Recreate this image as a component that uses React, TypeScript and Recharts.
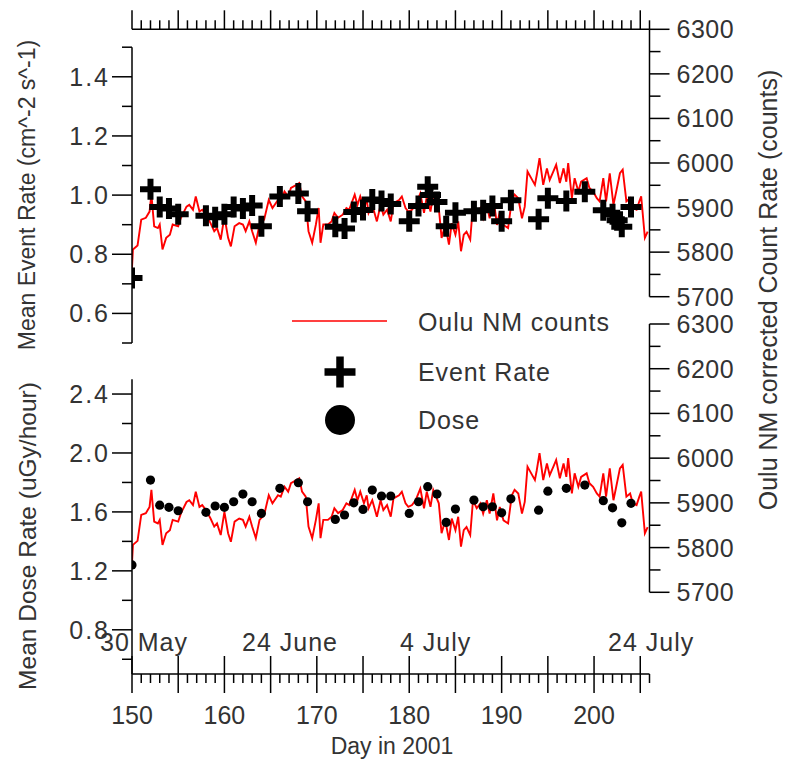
import React from 'react';
import { LineChart, Line, ScatterChart, Scatter, XAxis, YAxis } from 'recharts';

// ---- data -------------------------------------------------------------
// Oulu neutron monitor corrected count rate (day of year 2001, counts)
const ouluDays = [
  150.0, 150.1, 150.6, 151.0, 151.5, 151.9, 152.1, 152.4, 152.8, 153.0,
  153.3, 153.7, 154.1, 154.4, 155.0, 155.3, 155.9, 156.2, 156.6, 156.9,
  157.3, 157.6, 158.0, 158.5, 158.9, 159.2, 159.6, 160.0, 160.4, 160.7,
  161.1, 161.6, 162.0, 162.3, 162.7, 163.0, 163.4, 163.8, 164.3, 164.8,
  165.2, 165.8, 166.1, 166.5, 166.9, 167.2, 167.8, 168.1, 168.4, 168.8,
  169.1, 169.5, 169.9, 170.2, 170.4, 170.7, 171.2, 171.6, 171.9, 172.3,
  172.8, 173.2, 173.5, 174.1, 174.4, 174.7, 175.1, 175.4, 175.6, 176.0,
  176.5, 176.9, 177.2, 177.6, 178.0, 178.3, 178.9, 179.2, 179.6, 179.9,
  180.3, 180.7, 181.2, 181.6, 181.9, 182.3, 182.6, 183.2, 183.5, 183.9,
  184.3, 184.6, 185.0, 185.3, 185.6, 185.9, 186.2, 186.6, 186.9, 187.3,
  187.7, 188.0, 188.4, 188.7, 189.1, 189.5, 189.8, 190.2, 190.7, 191.1,
  191.4, 191.8, 192.2, 192.5, 192.8, 193.2, 193.6, 193.8, 194.1, 194.5,
  194.9, 195.2, 195.6, 195.9, 196.3, 196.7, 197.0, 197.2, 197.6, 197.9,
  198.3, 198.6, 199.2, 199.5, 199.9, 200.3, 200.6, 201.0, 201.3, 201.7,
  202.1, 202.4, 202.8, 203.1, 203.5, 203.9, 204.2, 204.6, 204.9, 205.1,
  205.5, 205.8,
];
const ouluCounts = [
  5765, 5806, 5815, 5873, 5877, 5891, 5929, 5858, 5854, 5862,
  5806, 5832, 5839, 5862, 5858, 5877, 5902, 5906, 5895, 5925,
  5891, 5895, 5884, 5865, 5847, 5854, 5828, 5880, 5832, 5813,
  5858, 5865, 5862, 5847, 5869, 5847, 5821, 5862, 5873, 5917,
  5899, 5917, 5914, 5936, 5925, 5944, 5951, 5955, 5925, 5914,
  5847, 5821, 5862, 5899, 5821, 5862, 5862, 5869, 5888, 5877,
  5884, 5899, 5895, 5929, 5906, 5925, 5899, 5917, 5888, 5906,
  5869, 5906, 5884, 5895, 5869, 5910, 5917, 5925, 5899, 5891,
  5895, 5906, 5932, 5888, 5925, 5891, 5929, 5899, 5832, 5861,
  5817, 5865, 5839, 5869, 5802, 5839, 5846, 5828, 5906, 5888,
  5899, 5876, 5906, 5876, 5921, 5861, 5891, 5861, 5854, 5917,
  5929, 5921, 5876, 5902, 5981, 5966, 5951, 5973, 6011, 5951,
  5988, 5962, 5981, 5996, 5955, 5988, 5958, 6000, 5921, 5966,
  5936, 5958, 5966, 5944, 5936, 5921, 5914, 5966, 5914, 5977,
  5906, 5936, 5977, 5985, 5914, 5921, 5899, 5895, 5914, 5925,
  5832, 5846,
];

// Mean event rate (cm^-2 s^-1)
const eventDays = [
  150, 152, 153, 154, 155, 158, 159, 160, 161, 162, 163, 164, 166, 168, 169,
  172, 173, 174, 175, 176, 177, 178, 180, 181, 182, 182.3, 183, 184, 185, 187,
  188, 189, 190, 191, 194, 195, 197, 199, 201, 202, 202.5, 203, 204,
];
const eventRates = [
  0.72, 1.02, 0.96, 0.955, 0.935, 0.93, 0.925, 0.935, 0.96, 0.955, 0.965, 0.895, 0.995, 1.005, 0.945,
  0.893, 0.887, 0.943, 0.95, 0.985, 0.98, 0.97, 0.912, 0.963, 1.028, 1.0, 0.977, 0.895, 0.94, 0.945,
  0.949, 0.963, 0.912, 0.983, 0.918, 0.989, 0.98, 1.011, 0.949, 0.935, 0.915, 0.893, 0.96,
];

// Mean dose rate (uGy/hour)
const doseDays = [
  150, 152, 153, 154, 155, 158, 159, 160, 161, 162, 163, 164, 166, 168, 169,
  172, 173, 174, 175, 176, 177, 178, 180, 181, 182, 183, 184, 185, 187, 188,
  189, 190, 191, 194, 195, 197, 199, 201, 202, 203, 204,
];
const doseRates = [
  1.24, 1.816, 1.646, 1.631, 1.608, 1.597, 1.64, 1.631, 1.669, 1.721, 1.669, 1.59, 1.76, 1.798, 1.669,
  1.549, 1.579, 1.662, 1.617, 1.748, 1.708, 1.708, 1.59, 1.669, 1.771, 1.721, 1.529, 1.619, 1.68, 1.635,
  1.635, 1.594, 1.689, 1.612, 1.741, 1.76, 1.782, 1.676, 1.628, 1.526, 1.658,
];

// axis ticks
const dayTicks = Array.from({ length: 57 }, (_, i) => 150 + i);
const dayLabelTicks = [150, 160, 170, 180, 190, 200];
const eventTicks = [0.5, 0.6, 0.7, 0.8, 0.9, 1.0, 1.1, 1.2, 1.3, 1.4, 1.5];
const eventLabelTicks = [0.6, 0.8, 1.0, 1.2, 1.4];
const doseTicks = [0.6, 0.8, 1.0, 1.2, 1.4, 1.6, 1.8, 2.0, 2.2, 2.4];
const doseLabelTicks = [0.8, 1.2, 1.6, 2.0, 2.4];
const countTicks = [5700, 5750, 5800, 5850, 5900, 5950, 6000, 6050, 6100, 6150, 6200, 6250, 6300];
const countLabelTicks = [5700, 5800, 5900, 6000, 6100, 6200, 6300];
const dateLabels = ['30 May', '24 June', '4 July', '24 July'];
const legendLabels = ['Oulu NM counts', 'Event Rate', 'Dose'];

const ouluRows = ouluDays.map((day, i) => ({ day, counts: ouluCounts[i] }));
const eventRows = eventDays.map((day, i) => ({ day, rate: eventRates[i] }));
const doseRows = doseDays.map((day, i) => ({ day, dose: doseRates[i] }));

// ---- layout -----------------------------------------------------------
const W = 785;
const H = 764;
const FONT = "'Liberation Sans', Arial, Helvetica, sans-serif";
const TXT = '#333';
const FS = 25;
const PLOT_L = 132;
const PLOT_R = 649.5;
const DAY_DOMAIN: [number, number] = [150, 206];
const AXIS = { stroke: '#000', strokeWidth: 1.5 };

const has = (list: number[], v: number) => list.some((m) => Math.abs(m - v) < 1e-6);

const LeftTick = (labels: number[]) => (props: any) => {
  const { x, y, payload } = props;
  const major = has(labels, payload.value);
  return (
    <g>
      <line x1={x} x2={x - (major ? 20 : 10)} y1={y} y2={y} stroke="#000" strokeWidth={1.5} />
      {major && (
        <text x={x - 22} y={y} dy="0.36em" textAnchor="end" fontFamily={FONT} fontSize={FS}
          letterSpacing={2} fill={TXT}>
          {Number(payload.value).toFixed(1)}
        </text>
      )}
    </g>
  );
};

const RightTick = (props: any) => {
  const { x, y, payload } = props;
  const major = has(countLabelTicks, payload.value);
  return (
    <g>
      <line x1={x} x2={x + (major ? 20 : 11)} y1={y} y2={y} stroke="#000" strokeWidth={1.5} />
      {major && (
        <text x={x + 27} y={y} dy="0.36em" textAnchor="start" fontFamily={FONT} fontSize={FS}
          letterSpacing={0.5} fill={TXT}>
          {payload.value}
        </text>
      )}
    </g>
  );
};

const TopTick = (props: any) => {
  const { x, y, payload } = props;
  const major = payload.value % 5 === 0;
  return <line x1={x} x2={x} y1={y} y2={y - (major ? 19 : 9)} stroke="#000" strokeWidth={1.5} />;
};

const BottomTick = (props: any) => {
  const { x, y, payload } = props;
  const major = payload.value % 5 === 0;
  return (
    <g>
      <line x1={x} x2={x} y1={major ? y - 18 : y} y2={y + (major ? 19 : 9)} stroke="#000" strokeWidth={1.5} />
      {has(dayLabelTicks, payload.value) && (
        <text x={x} y={y + 41} dy="0.36em" textAnchor="middle" fontFamily={FONT} fontSize={FS} fill={TXT}>
          {payload.value}
        </text>
      )}
    </g>
  );
};

const PlusShape = (props: any) => {
  const { cx, cy } = props;
  return (
    <path d={`M${cx - 10.5},${cy}H${cx + 10.5}M${cx},${cy - 10.5}V${cy + 10.5}`} stroke="#000"
      strokeWidth={6} fill="none" />
  );
};

const DotShape = (props: any) => {
  const { cx, cy } = props;
  return <circle cx={cx} cy={cy} r={4.6} fill="#000" />;
};

const layer: React.CSSProperties = { position: 'absolute', left: 0, top: 0 };

export default function App() {
  return (
    <div style={{ position: 'absolute', left: 0, top: 0, width: W, height: H, background: '#fff', overflow: 'hidden' }}>
      {/* upper panel: neutron monitor counts on the right axis, with the top day axis */}
      <div style={layer}>
        <LineChart width={W} height={H} data={ouluRows}
          margin={{ top: 29.3 - 20, right: W - PLOT_R - 90, bottom: H - 296.7, left: PLOT_L }}>
          <XAxis dataKey="day" type="number" domain={DAY_DOMAIN} ticks={dayTicks} interval={0}
            orientation="top" height={20} allowDataOverflow axisLine={AXIS} tickLine={false}
            tickSize={0} tickMargin={0} tick={TopTick} />
          <YAxis yAxisId="c" orientation="right" width={90} type="number" domain={[5700, 6300]}
            ticks={countTicks} interval={0} allowDataOverflow axisLine={AXIS} tickLine={false}
            tickSize={0} tickMargin={0} tick={RightTick} />
          <Line yAxisId="c" dataKey="counts" stroke="#ff0000" strokeWidth={1.9} dot={false}
            isAnimationActive={false} />
        </LineChart>
      </div>

      {/* upper panel: event rate on the left axis */}
      <div style={layer}>
        <ScatterChart width={W} height={H}
          margin={{ top: 47.2, right: W - PLOT_R, bottom: H - 343, left: PLOT_L - 60 }}>
          <XAxis dataKey="day" type="number" domain={DAY_DOMAIN} hide allowDataOverflow />
          <YAxis dataKey="rate" width={60} type="number" domain={[0.5, 1.5]} ticks={eventTicks}
            interval={0} allowDataOverflow axisLine={AXIS} tickLine={false} tickSize={0} tickMargin={0}
            tick={LeftTick(eventLabelTicks)} />
          <Scatter data={eventRows} shape={PlusShape} isAnimationActive={false} />
        </ScatterChart>
      </div>

      {/* lower panel: neutron monitor counts on the right axis */}
      <div style={layer}>
        <LineChart width={W} height={H} data={ouluRows}
          margin={{ top: 324, right: W - PLOT_R - 90, bottom: H - 592.3, left: PLOT_L }}>
          <XAxis dataKey="day" type="number" domain={DAY_DOMAIN} hide allowDataOverflow />
          <YAxis yAxisId="c" orientation="right" width={90} type="number" domain={[5700, 6300]}
            ticks={countTicks} interval={0} allowDataOverflow axisLine={AXIS} tickLine={false}
            tickSize={0} tickMargin={0} tick={RightTick} />
          <Line yAxisId="c" dataKey="counts" stroke="#ff0000" strokeWidth={1.9} dot={false}
            isAnimationActive={false} />
        </LineChart>
      </div>

      {/* lower panel: dose rate on the left axis, with the bottom day axis */}
      <div style={layer}>
        <ScatterChart width={W} height={H}
          margin={{ top: 379.3, right: W - PLOT_R, bottom: H - 674 - 60, left: PLOT_L - 60 }}>
          <XAxis dataKey="day" type="number" domain={DAY_DOMAIN} ticks={dayTicks} interval={0}
            height={60} allowDataOverflow axisLine={AXIS} tickLine={false} tickSize={0} tickMargin={0}
            tick={BottomTick} />
          <YAxis dataKey="dose" width={60} type="number" domain={[0.5, 2.5]} ticks={doseTicks}
            interval={0} allowDataOverflow axisLine={AXIS} tickLine={false} tickSize={0} tickMargin={0}
            tick={LeftTick(doseLabelTicks)} />
          <Scatter data={doseRows} shape={DotShape} isAnimationActive={false} />
        </ScatterChart>
      </div>

      {/* titles, date annotations and legend */}
      <svg width={W} height={H} style={{ ...layer, pointerEvents: 'none' }} fontFamily={FONT} fill={TXT}>
        <text transform="translate(27,195) rotate(-90)" textAnchor="middle" dy="0.36em" fontSize={23}>
          Mean Event Rate (cm^-2 s^-1)
        </text>
        <text transform="translate(27,536) rotate(-90)" textAnchor="middle" dy="0.36em" fontSize={24.5}>
          Mean Dose Rate (uGy/hour)
        </text>
        <text transform="translate(768,290) rotate(-90)" textAnchor="middle" dy="0.36em" fontSize={25}>
          Oulu NM corrected Count Rate (counts)
        </text>
        <text x={392} y={746} textAnchor="middle" dy="0.36em" fontSize={23}>Day in 2001</text>

        <text x={100} y={642} dy="0.36em" fontSize={FS} letterSpacing={1}>{dateLabels[0]}</text>
        <text x={242} y={642} dy="0.36em" fontSize={FS} letterSpacing={1}>{dateLabels[1]}</text>
        <text x={400} y={642} dy="0.36em" fontSize={FS} letterSpacing={1}>{dateLabels[2]}</text>
        <text x={608} y={642} dy="0.36em" fontSize={FS} letterSpacing={1}>{dateLabels[3]}</text>

        <line x1={292} x2={387} y1={321} y2={321} stroke="#ff0000" strokeWidth={1.5} />
        <path d="M324.5,372H355.5M340,356.5V387.5" stroke="#000" strokeWidth={7.5} fill="none" />
        <circle cx={340} cy={420} r={15} fill="#000" />
        <text x={418} y={322} dy="0.36em" fontSize={FS} letterSpacing={0.9}>{legendLabels[0]}</text>
        <text x={418} y={372} dy="0.36em" fontSize={FS} letterSpacing={0.9}>{legendLabels[1]}</text>
        <text x={418} y={420} dy="0.36em" fontSize={FS} letterSpacing={0.9}>{legendLabels[2]}</text>
      </svg>
    </div>
  );
}
